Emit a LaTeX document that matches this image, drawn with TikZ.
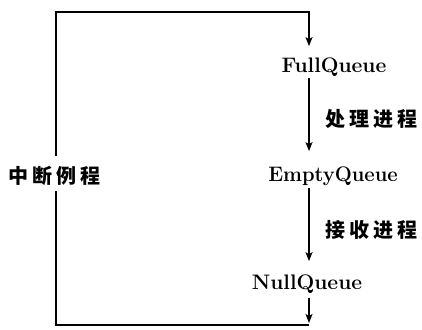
\documentclass[tikz,border=0pt]{standalone}
\usepackage{fontspec}
\usepackage{graphicx}
\usetikzlibrary{arrows.meta}
\newfontfamily\cjk{Noto Sans CJK SC}[LetterSpace=20]
\begin{document}
\begin{tikzpicture}[x=1pt,y=-1pt,
  wire/.style={line width=1.2pt, line join=miter},
  arr/.style={wire,-{Stealth[length=9pt,width=7pt,inset=2pt]}},
  queue/.style={inner sep=0pt,anchor=base,font=\fontsize{21}{25}\selectfont\bfseries},
  cn/.style={inner sep=0pt,anchor=west,font=\fontsize{20}{24}\selectfont\cjk\bfseries}]
\useasboundingbox (0,0) rectangle (422,329);
\coordinate (c1) at (309,325);
\coordinate (c2) at (56,325);
\coordinate (c3) at (56,12);
\coordinate (c4) at (309,12);
\node[queue] (full) at (334,72) {FullQueue};
\node[queue] (empty) at (333,181) {\scalebox{0.96}[1]{EmptyQueue}};
\node[queue] (null) at (307,289) {NullQueue};
\node[cn] (intr) at (8,176) {中断例程};
\node[cn] (lab1) at (325,119) {处理进程};
\node[cn] (lab2) at (325,230) {接收进程};
\draw[arr, shorten <=10pt, shorten >=11pt] (intr.north -| c3) -- (c3) -- (c4) -- (full.north -| c4);
\draw[arr, shorten <=2pt, shorten >=15pt] (full.south -| c4) -- (empty.north -| c4);
\draw[arr, shorten <=3pt, shorten >=13pt] (empty.south -| c4) -- (null.north -| c4);
\draw[arr, shorten <=5pt, shorten >=2pt] (null.south -| c4) -- (c1);
\draw[wire, shorten >=5pt] (c1) -- (c2) -- (intr.south -| c2);
\end{tikzpicture}
\end{document}
